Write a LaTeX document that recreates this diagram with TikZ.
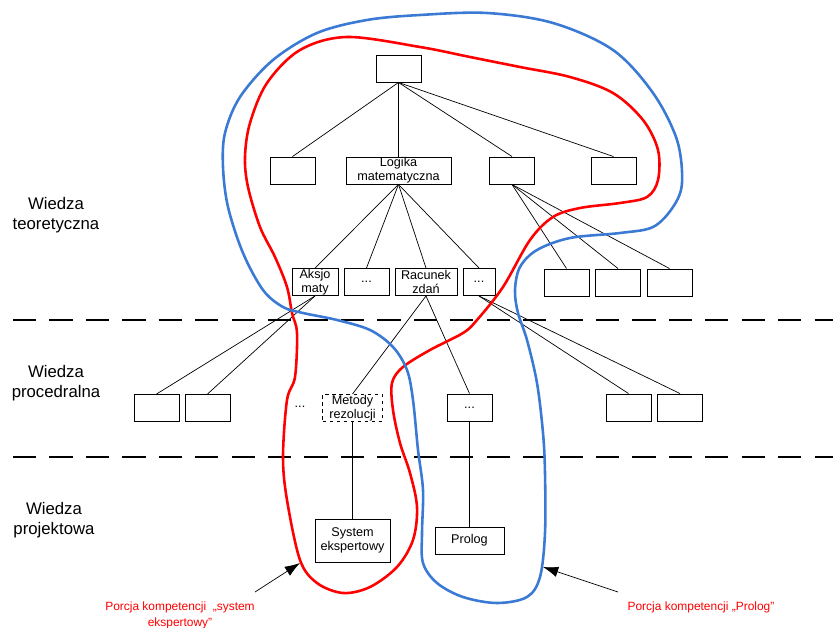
\documentclass[tikz,border=0pt]{standalone}
\usepackage{fontspec}
\setmainfont{Liberation Sans}
\usetikzlibrary{arrows.meta}

\definecolor{portionblue}{RGB}{58,122,212}

\begin{document}
\begin{tikzpicture}[
x=0.03cm,
y=-0.03cm,
box/.style={
  draw,
  line width=0.8pt,
  minimum width=1.35cm,
  minimum height=0.81cm,
  inner sep=0pt,
  align=center,
  font=\fontsize{10.8}{12}\selectfont
  },
plain/.style={
  draw=none,
  font=\fontsize{10.8}{12}\selectfont
  },
level/.style={
  align=center,
  font=\fontsize{14.3}{17.5}\selectfont
  },
portion/.style={
  text=red,
  align=center,
  font=\fontsize{10.2}{13.6}\selectfont
  },
link/.style={
  line width=0.6pt
  },
border/.style={
  dash pattern=on 19.8pt off 11.3pt,
  line width=1.3pt
  },
>={Latex[length=13pt,width=9pt]}
]
\useasboundingbox (0,0) rectangle (833,628);

% levels
\draw[border] (13,320) -- (833,320);
\draw[border] (13,457) -- (833,457);
\node[level] (teor) at (56,215) {Wiedza\\teoretyczna};
\node[level] (proc) at (56,383) {Wiedza\\procedralna};
\node[level] (proj) at (54,520) {Wiedza\\projektowa};

% tree
\node[box] (top) at (398.5,68.5) {};
\node[box] (a) at (292.5,170.5) {};
\node[box,minimum width=3.15cm] (logika) at (398.5,170.5) {Logika\\matematyczna};
\node[box] (c) at (512,170.5) {};
\node[box] (d) at (613.5,170.5) {};

\node[box,minimum width=1.38cm] (aksjo) at (315,282) {Aksjo\\maty};
\node[box] (dotsa) at (366.5,282) {...};
\node[box,minimum width=1.86cm] (racunek) at (426,282) {Racunek\\zdań};
\node[box,minimum width=0.96cm] (dotsb) at (479,282) {...};
\node[box] (ra) at (566.5,282.5) {};
\node[box] (rb) at (618,282.5) {};
\node[box] (rc) at (669.5,282.5) {};

\node[box] (pa) at (156.5,408) {};
\node[box] (pb) at (207.5,408) {};
\node[plain] (dotsp) at (300,407) {...};
\node[box,dashed,minimum width=1.8cm] (metody) at (352.5,408) {Metody\\rezolucji};
\node[box] (dotsc) at (469.5,407.5) {...};
\node[box] (pc) at (628.5,407.5) {};
\node[box] (pd) at (680,407.5) {};

\node[box,minimum width=2.25cm,minimum height=1.29cm] (system) at (352.5,540.5) {System\\ekspertowy};
\node[box,minimum width=2.07cm] (prolog) at (469.5,540.5) {Prolog};

\foreach \n in {a,logika,c,d}
  \draw[link] (top.south) -- (\n.north);
\foreach \n in {aksjo,dotsa,racunek,dotsb}
  \draw[link] (logika.south) -- (\n.north);
\foreach \n in {ra,rb,rc}
  \draw[link] (c.south) -- (\n.north);
\foreach \n in {pa,pb}
  \draw[link] (aksjo.south) -- (\n.north);
\foreach \n in {metody,dotsc}
  \draw[link] (racunek.south) -- (\n.north);
\foreach \n in {pc,pd}
  \draw[link] (dotsb.south) -- (\n.north);
\draw[link] (metody.south) -- (system.north);
\draw[link] (dotsc.south) -- (prolog.north);

% portions
\draw[red,line width=2.2pt] plot[smooth cycle,tension=0.55] coordinates {
  (347,37) (420,47) (470,57) (520,67) (570,77) (613,93) (643,120) (658,150)
  (658,180) (647,197) (620,203) (580,208) (553,217) (530,240) (503,287)
  (477,320) (463,333) (430,350) (403,367) (392,383) (393,410) (400,443)
  (410,473) (417,507) (413,540) (397,567) (370,587) (343,593) (317,583)
  (300,560) (287,500) (283,457) (287,400) (295,377) (297,333) (292,313)
  (287,287) (275,257) (260,227) (248,187) (245,157) (250,123) (267,83)
  (300,50)};
\draw[portionblue,line width=2.2pt] plot[smooth cycle,tension=0.55] coordinates {
  (420,15) (487,13) (553,23) (613,50) (653,93) (677,140) (682,183) (673,207)
  (653,227) (620,233) (570,238) (537,250) (520,267) (515,290) (518,313)
  (527,340) (537,383) (543,433) (545,473) (545,533) (540,577) (527,597)
  (497,603) (463,597) (437,583) (423,563) (422,533) (423,490) (418,450)
  (413,400) (407,370) (393,347) (370,330) (337,320) (303,313) (283,307)
  (263,290) (243,253) (228,207) (223,167) (225,133) (240,97) (273,60)
  (317,33) (367,20)};

\node[portion] (expert) at (180,615) {Porcja kompetencji\ \ „system\\ekspertowy”};
\node[portion] (prol) at (701,607) {Porcja kompetencji „Prolog”};
\coordinate (tailL) at (255,592);
\coordinate (tipL) at (300,563);
\coordinate (tailR) at (618,592);
\coordinate (tipR) at (543,567);
\draw[->,link] (tailL) -- (tipL);
\draw[->,link] (tailR) -- (tipR);
\end{tikzpicture}
\end{document}
